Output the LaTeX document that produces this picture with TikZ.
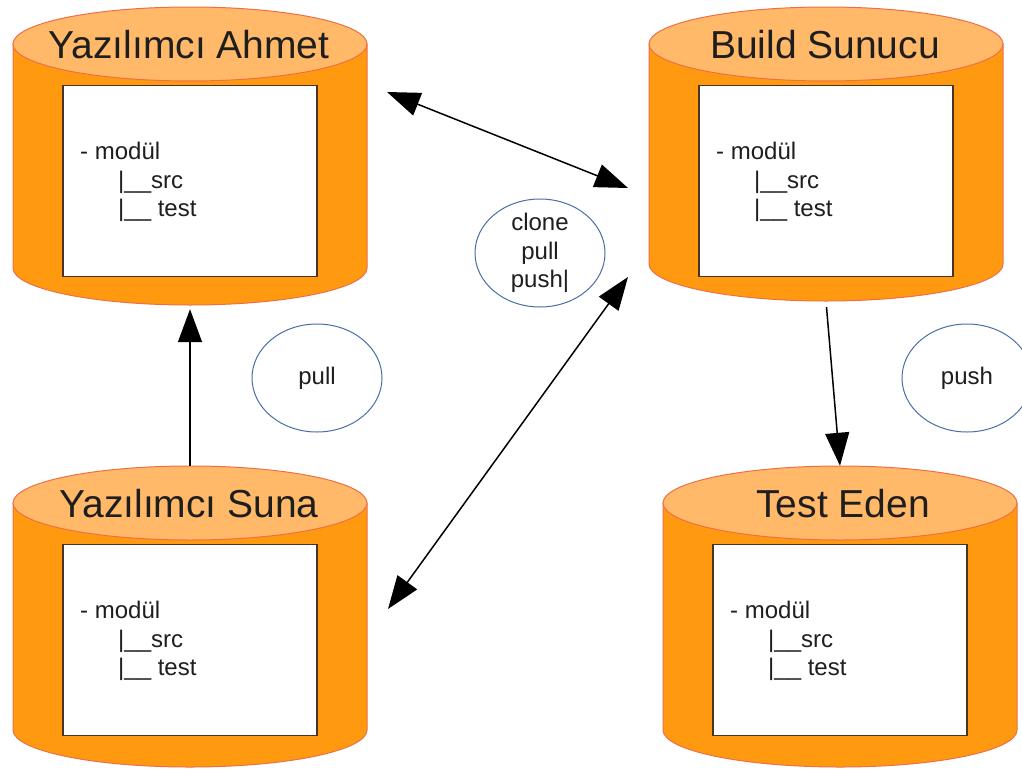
\documentclass[tikz,border=0pt]{standalone}
\usepackage{fontspec}
\setmainfont{Liberation Sans}
\usetikzlibrary{shapes.geometric,arrows.meta}
\definecolor{cylbody}{HTML}{FF9A10}
\definecolor{cyltop}{HTML}{FFB968}
\definecolor{cylline}{HTML}{EE6F45}
\definecolor{boxline}{HTML}{4A3228}
\definecolor{bubline}{HTML}{4A6FA5}
\definecolor{txt}{HTML}{1E1E1E}
\tikzset{
  titletxt/.style={font=\fontsize{39}{42}\selectfont, text=txt, anchor=base, inner sep=0},
  treetxt/.style={font=\fontsize{24}{28}\selectfont, text=txt, anchor=base west, inner sep=0},
  bubble/.style={draw=bubline, line width=1pt, ellipse, minimum width=130pt, minimum height=108pt, inner sep=0},
  bubtxt/.style={font=\fontsize{24}{28.5}\selectfont, text=txt, align=center, inner sep=0},
  conn/.style={line width=1.5pt, draw=black},
  bigtip/.tip={Triangle[length=33pt,width=24pt]},
  innerbox/.style={draw=boxline, fill=white, line width=1.5pt, inner sep=0, minimum width=254pt, minimum height=191pt},
  cylarea/.style={inner sep=0, minimum width=354pt, draw=none},
  cylbodysty/.style={fill=cylbody, draw=cylline, line width=1pt},
  cyltopsty/.style={fill=cyltop, draw=cylline, line width=1pt}
}
% #1 name, #2 cx, #3 top-centre y, #4 bottom-centre y, #5 title, #6 title x
\newcommand{\mycyl}[6]{%
  \path[cylbodysty] (#2-177,#3) -- (#2-177,#4)
     arc[start angle=180,end angle=360,x radius=177pt,y radius=37pt]
     -- (#2+177,#3) -- cycle;
  \path[cyltopsty] (#2,#3) ellipse [x radius=177pt, y radius=37pt];
  \node[cylarea, minimum height={#4-#3+74}] (#1) at (#2,{(#3+#4)/2}) {};
  \node[titletxt] (#1-title) at (#6,#3+14) {#5};
  \node[innerbox] (#1-box) at (#2,#3+137) {};
  \node[treetxt] (#1-l1) at (#2-110,#3+115) {- modül};
  \node[treetxt] (#1-l2) at (#2-72,#3+144) {|\_\_src};
  \node[treetxt] (#1-l3) at (#2-72,#3+172) {|\_\_ test};
}
\begin{document}
\begin{tikzpicture}[x=1pt,y=-1pt]
\useasboundingbox (0,0) rectangle (1022,771);
\fill[white] (0,0) rectangle (1022,771);

\mycyl{ahmet}{190}{44}{268}{Yazılımcı Ahmet}{189}
\mycyl{build}{826}{44}{264}{Build Sunucu}{825}
\mycyl{suna}{190}{503}{730}{Yazılımcı Suna}{189}
\mycyl{test}{840}{503}{730}{Test Eden}{843}

\node[bubble] (cpp) at (540,253) {};
\node[bubtxt] (cpp-txt) at (cpp) {clone\\pull\\push|};
\node[bubble] (pullb) at (317,378) {};
\node[bubtxt] (pullb-txt) at (pullb) {pull};
\node[bubble] (pushb) at (967,378) {};
\node[bubtxt] (pushb-txt) at (pushb) {push};

\coordinate (a1s) at (387,92);
\coordinate (a1e) at (628,188);
\coordinate (a2s) at (388,609);
\coordinate (a2e) at (628,277);
\draw[conn, bigtip-bigtip] (a1s) -- (a1e);
\draw[conn, bigtip-bigtip] (a2s) -- (a2e);
\draw[conn, -bigtip, shorten >=4pt] (suna.north) -- (ahmet.south);
\draw[conn, -bigtip, shorten <=6pt] (build.south) -- (test.north);
\end{tikzpicture}
\end{document}
